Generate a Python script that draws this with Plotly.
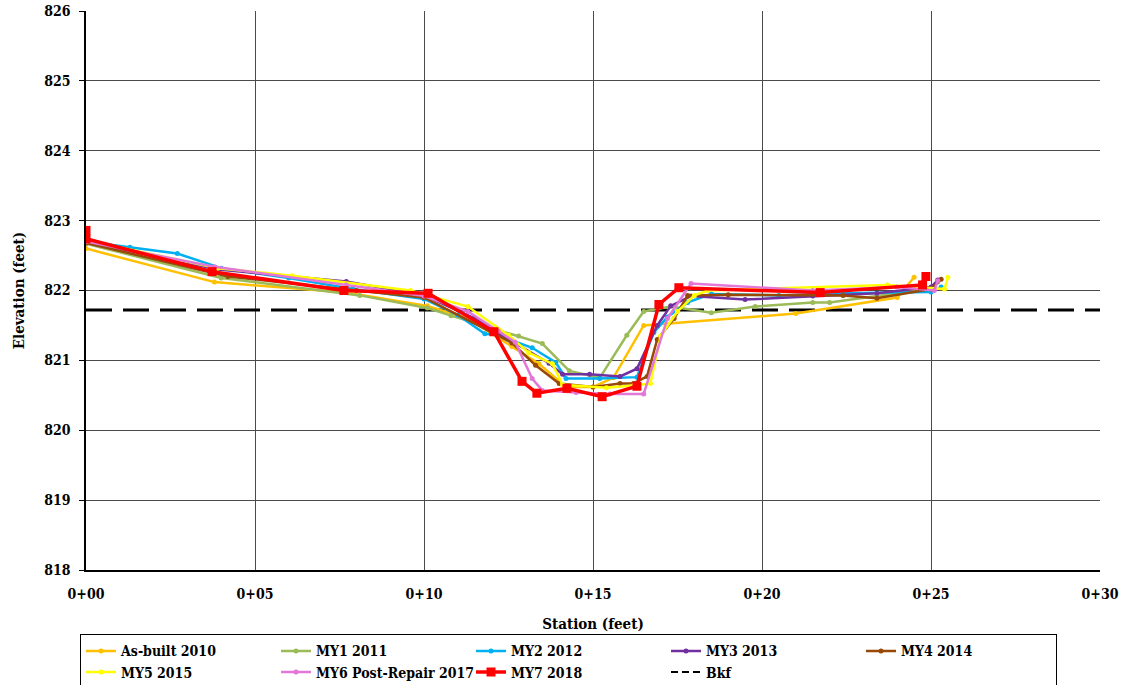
import plotly.graph_objects as go

# ---- data (station ft, elevation ft) ----
asbuilt_x = [0, 3.8, 7.7, 10.1, 11.3, 12.6, 13.4, 14.2, 15.0, 15.6, 16.5, 21.0, 24.0, 24.5]
asbuilt_y = [822.60, 822.12, 821.97, 821.78, 821.60, 821.20, 820.95, 820.62, 820.62, 820.75, 821.50, 821.67, 821.90, 822.19]

my1_x = [0, 4.0, 8.1, 10.1, 10.8, 12.8, 13.5, 14.3, 15.2, 16.0, 16.5, 17.3, 18.5, 19.8, 21.5, 22.0, 24.9, 25.2]
my1_y = [822.67, 822.18, 821.93, 821.75, 821.64, 821.35, 821.24, 820.85, 820.75, 821.36, 821.70, 821.77, 821.68, 821.77, 821.83, 821.83, 822.02, 822.12]

my2_x = [0, 1.3, 2.7, 4.0, 6.0, 7.9, 10.0, 11.0, 11.8, 12.2, 13.2, 13.9, 14.2, 15.2, 16.3, 16.8, 17.2, 17.8, 18.5, 20.5, 22.3, 25.0, 25.3]
my2_y = [822.70, 822.62, 822.53, 822.32, 822.18, 822.02, 821.88, 821.65, 821.38, 821.36, 821.18, 820.97, 820.74, 820.74, 820.76, 821.40, 821.62, 821.83, 821.95, 821.93, 821.96, 821.98, 822.05]

my3_x = [0, 3.9, 7.7, 10.0, 11.5, 12.3, 13.7, 14.1, 14.9, 15.8, 16.3, 16.9, 17.3, 17.9, 19.5, 21.5, 23.4, 25.0, 25.2]
my3_y = [822.70, 822.30, 822.13, 821.93, 821.60, 821.36, 820.96, 820.80, 820.80, 820.77, 820.88, 821.50, 821.78, 821.92, 821.87, 821.92, 821.96, 822.05, 822.15]

my4_x = [0, 4.2, 8.0, 10.0, 12.0, 12.6, 13.3, 14.0, 15.0, 15.8, 16.2, 16.6, 16.9, 17.4, 17.8, 19.0, 22.4, 23.4, 25.0, 25.3]
my4_y = [822.68, 822.20, 822.00, 821.90, 821.40, 821.25, 820.93, 820.67, 820.62, 820.67, 820.67, 820.77, 821.30, 821.60, 821.93, 821.94, 821.93, 821.89, 822.02, 822.16]

my5_x = [0, 3.9, 6.1, 9.6, 11.3, 12.5, 13.1, 13.8, 14.1, 15.4, 16.2, 16.7, 17.0, 17.5, 18.0, 18.4, 23.7, 25.4, 25.5]
my5_y = [822.72, 822.32, 822.21, 822.00, 821.77, 821.36, 821.11, 820.95, 820.65, 820.61, 820.64, 820.67, 821.35, 821.70, 821.93, 822.00, 822.08, 822.02, 822.19]

my6_x = [0, 3.8, 7.7, 10.0, 11.3, 12.2, 12.7, 13.2, 13.5, 14.5, 15.5, 16.5, 17.2, 17.9, 21.5, 24.0, 25.1, 25.2]
my6_y = [822.70, 822.34, 822.08, 821.92, 821.70, 821.42, 821.26, 820.74, 820.57, 820.54, 820.52, 820.52, 821.60, 822.10, 822.00, 822.05, 822.00, 822.14]

my7_x = [0, 0, 3.73, 7.63, 10.12, 12.07, 12.9, 13.34, 14.23, 15.27, 16.3, 16.95, 17.54, 21.72, 24.75, 24.85]
my7_y = [822.86, 822.74, 822.27, 822.00, 821.96, 821.41, 820.70, 820.53, 820.60, 820.48, 820.63, 821.80, 822.04, 821.97, 822.08, 822.20]

bkf_x = [0, 30]
bkf_y = [821.72, 821.72]

x_tickvals = [0, 5, 10, 15, 20, 25, 30]
x_ticktext = ["0+00", "0+05", "0+10", "0+15", "0+20", "0+25", "0+30"]
y_tickvals = [818, 819, 820, 821, 822, 823, 824, 825, 826]

series = [
    ("As-built 2010", asbuilt_x, asbuilt_y, "#FFC000"),
    ("MY1 2011", my1_x, my1_y, "#9BBB59"),
    ("MY2 2012", my2_x, my2_y, "#00B0F0"),
    ("MY3 2013", my3_x, my3_y, "#7030A0"),
    ("MY4 2014", my4_x, my4_y, "#984807"),
    ("MY5 2015", my5_x, my5_y, "#FFFF00"),
    ("MY6 Post-Repair 2017", my6_x, my6_y, "#E277D8"),
]

FONT = "DejaVu Serif Condensed, DejaVu Serif"

fig = go.Figure()

fig.add_trace(go.Scatter(
    x=bkf_x, y=bkf_y, mode="lines", name="Bkf",
    line=dict(color="black", width=3, dash="26px,11px"),
    showlegend=False,
))

for i, (name, xs, ys, col) in enumerate(series):
    fig.add_trace(go.Scatter(
        x=xs, y=ys, mode="lines+markers", name=name,
        line=dict(color=col, width=2.5),
        marker=dict(color=col, size=5, symbol="circle"),
        legendrank=i + 1,
    ))

fig.add_trace(go.Scatter(
    x=my7_x, y=my7_y, mode="lines+markers", name="MY7 2018",
    line=dict(color="#FF0000", width=3.5),
    marker=dict(color="#FF0000", size=9, symbol="square"),
    legendrank=8,
))

fig.add_trace(go.Scatter(
    x=[None], y=[None], mode="lines", name="Bkf",
    line=dict(color="black", width=2, dash="7px,4px"),
    legendrank=9,
))

fig.update_layout(
    width=1127, height=685,
    margin=dict(l=86, r=27, t=11, b=115, autoexpand=False),
    paper_bgcolor="white", plot_bgcolor="white",
    font=dict(family=FONT, size=14, color="black"),
    showlegend=True,
    legend=dict(
        orientation="h",
        xref="container", yref="container",
        x=0.071, y=0.074, xanchor="left", yanchor="top",
        entrywidth=150, entrywidthmode="pixels",
        font=dict(family=FONT, size=14, color="black", weight="bold"),
        bordercolor="black", borderwidth=1, bgcolor="white",
        tracegroupgap=0,
    ),
)

fig.update_xaxes(
    range=[0, 30], tickvals=x_tickvals, ticktext=x_ticktext,
    showgrid=True, gridcolor="#4a4a4a", gridwidth=1,
    showline=True, linecolor="black", linewidth=1.5, mirror=False,
    ticks="", zeroline=False, ticklabelstandoff=10, automargin=False,
    tickfont=dict(family=FONT, size=14, weight="bold"),
    title=dict(text="Station (feet)", font=dict(family=FONT, size=15, weight="bold"), standoff=18),
)
fig.update_yaxes(
    range=[818, 826], tickvals=y_tickvals,
    showgrid=True, gridcolor="#4a4a4a", gridwidth=1,
    showline=True, linecolor="black", linewidth=1.5,
    ticks="outside", ticklen=5, tickcolor="black", zeroline=False, ticklabelstandoff=6,
    automargin=False,
    tickfont=dict(family=FONT, size=14, weight="bold"),
    title=dict(text="Elevation (feet)", font=dict(family=FONT, size=15, weight="bold"), standoff=16),
)

fig.write_html("out.html")
